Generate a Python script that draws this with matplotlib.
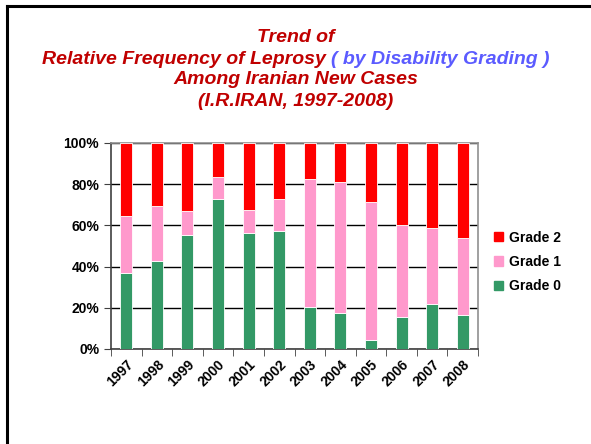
import numpy as np
import matplotlib.pyplot as plt
from matplotlib.lines import Line2D
from matplotlib.patches import Patch
from matplotlib.ticker import FixedLocator, PercentFormatter

plt.rcParams['font.family'] = ['Liberation Sans', 'DejaVu Sans']

years = ['1997', '1998', '1999', '2000', '2001', '2002',
         '2003', '2004', '2005', '2006', '2007', '2008']
grade0 = [36.8, 42.9, 55.2, 72.7, 56.1, 57.3, 20.5, 17.4, 4.4, 15.5, 21.9, 16.6]
grade1 = [27.9, 26.3, 11.9, 11.0, 11.6, 15.3, 62.2, 63.9, 66.9, 44.7, 37.0, 37.1]
grade2 = [35.3, 30.8, 32.9, 16.3, 32.3, 27.4, 17.3, 18.7, 28.7, 39.8, 41.1, 46.3]

c0, c1, c2 = '#339966', '#ff99cc', '#ff0000'
dark_red = '#c00000'
blue = '#5b5bff'

fig = plt.figure(figsize=(5.91, 4.44), dpi=100)
ax = fig.add_axes([111/591, 1 - 349/444, 367/591, 206/444])

x = np.arange(len(years))
w = 0.39
g0 = np.array(grade0)
g1 = np.array(grade1)
g2 = np.array(grade2)
ax.bar(x, g0, w, color=c0, edgecolor='white', linewidth=0.6, zorder=3)
ax.bar(x, g1, w, bottom=g0, color=c1, edgecolor='white', linewidth=0.6, zorder=3)
ax.bar(x, g2, w, bottom=g0 + g1, color=c2, edgecolor='white', linewidth=0.6, zorder=3)

ax.set_xlim(-0.5, len(years) - 0.5)
ax.set_ylim(0, 100)
ax.set_yticks(np.arange(0, 101, 20))
ax.yaxis.set_major_formatter(PercentFormatter(decimals=0))
ax.grid(axis='y', color='black', linewidth=1, zorder=0)
ax.set_axisbelow(True)

ax.set_xticks(x)
ax.set_xticklabels(years, rotation=45, ha='right', rotation_mode='anchor',
                   fontsize=10, fontweight='bold')
ax.tick_params(axis='x', which='major', length=0, pad=6)
ax.xaxis.set_minor_locator(FixedLocator(np.arange(-0.5, len(years), 1)))
ax.tick_params(axis='x', which='minor', length=5, direction='out', color='#404040')
ax.tick_params(axis='y', length=5, direction='out', color='#404040', labelsize=10)
for lab in ax.get_yticklabels():
    lab.set_fontweight('bold')

for s in ['left', 'bottom']:
    ax.spines[s].set_color('#404040')
    ax.spines[s].set_linewidth(1.2)
for s in ['top', 'right']:
    ax.spines[s].set_color('#909090')
    ax.spines[s].set_linewidth(1.2)

handles = [Patch(color=c2, label='Grade 2'),
           Patch(color=c1, label='Grade 1'),
           Patch(color=c0, label='Grade 0')]
fig.legend(handles=handles, loc='center left', bbox_to_anchor=(481/591, 1 - 262/444),
           frameon=False, prop={'weight': 'bold', 'size': 10},
           handlelength=0.65, handleheight=0.65, handletextpad=0.5, labelspacing=0.75)

# title lines
tkw = dict(ha='center', va='center', fontsize=14, fontweight='bold', style='italic')
fig.text(0.5, 1 - 38/444, 'Trend of', color=dark_red, **tkw)
t1 = fig.text(0.5, 1 - 60/444, 'Relative Frequency of Leprosy ', color=dark_red, **tkw)
t2 = fig.text(0.5, 1 - 60/444, '( by Disability Grading )', color=blue, **tkw)
fig.text(0.5, 1 - 80/444, 'Among Iranian New Cases', color=dark_red, **tkw)
fig.text(0.5, 1 - 102/444, '(I.R.IRAN, 1997-2008)', color=dark_red, **tkw)

# place the two parts of line 2 side by side, centred together
fig.canvas.draw()
r = fig.canvas.get_renderer()
wa = t1.get_window_extent(r).width
wb = t2.get_window_extent(r).width
W = fig.bbox.width
start = (W - wa - wb) / 2
t1.set_ha('left')
t2.set_ha('left')
t1.set_x(start / W)
t2.set_x((start + wa) / W)

# slide frame (only top and left edges visible)
fig.add_artist(Line2D([7/591, 1.0], [1 - 6/444, 1 - 6/444], color='black', linewidth=2.2))
fig.add_artist(Line2D([7/591, 7/591], [0.0, 1 - 6/444], color='black', linewidth=2.2))

fig.savefig('out.png', dpi=100, facecolor='white')
